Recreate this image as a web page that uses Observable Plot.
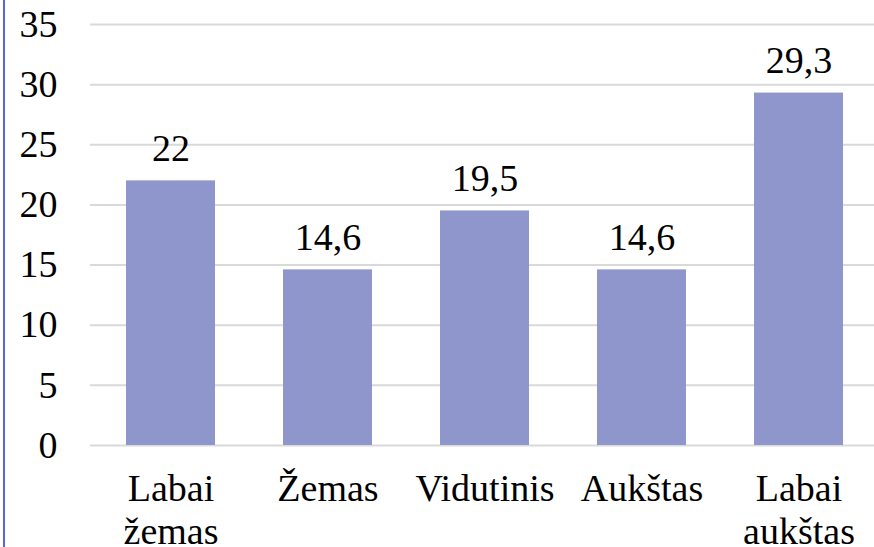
<!DOCTYPE html>
<html>
<head>
<meta charset="utf-8">
<script src="https://cdn.jsdelivr.net/npm/d3@7"></script>
<script src="https://cdn.jsdelivr.net/npm/@observablehq/plot@0.6"></script>
<style>
  html, body { margin: 0; padding: 0; background: #fff; }
  #wrap { position: relative; width: 874px; height: 547px; overflow: hidden; }
  #edge { position: absolute; left: 3px; top: 0; width: 2px; height: 547px; background: #5d62d8; z-index: 2; }
  #wrap svg, #wrap svg text { font-family: "Liberation Serif", "Times New Roman", "DejaVu Serif", serif !important; }
</style>
</head>
<body>
<div id="wrap"><div id="edge"></div></div>
<script>
const categories = ["Labai\nžemas", "Žemas", "Vidutinis", "Aukštas", "Labai\naukštas"];
const values = [22, 14.6, 19.5, 14.6, 29.3];
const yTicks = [0, 5, 10, 15, 20, 25, 30, 35];

const data = categories.map((c, i) => ({category: c, value: values[i]}));
const fmt = v => String(v).replace(".", ",");
const font = "Liberation Serif, Times New Roman, DejaVu Serif, serif";

const chart = Plot.plot({
  width: 874,
  height: 547,
  marginTop: 24,
  marginBottom: 102,
  marginLeft: 90,
  marginRight: 0,
  style: {fontSize: "38px", color: "#000", background: "transparent", overflow: "visible"},
  x: {domain: categories, range: [89.5, 879], paddingInner: 0.436, paddingOuter: 0.218, label: null},
  y: {domain: [0, 35], label: null},
  marks: [
    Plot.ruleY(yTicks, {stroke: "#d9d9d9", strokeWidth: 2}),
    Plot.barY(data, {x: "category", y: "value", fill: "#8e96cc"}),
    Plot.text(data, {x: "category", y: "value", text: d => fmt(d.value), lineAnchor: "bottom", dy: -20, fill: "#000", fontSize: 38, fontFamily: font}),
    Plot.axisY({ticks: yTicks, tickSize: 0, tickPadding: 33, label: null, fontSize: 38, fontFamily: font}),
    Plot.axisX({tickSize: 0, tickPadding: 25, label: null, fontSize: 38, fontFamily: font, lineHeight: 1.13})
  ]
});
document.getElementById("wrap").appendChild(chart);
chart.style.position = "absolute";
chart.style.left = "0";
chart.style.top = "0";
</script>
</body>
</html>
